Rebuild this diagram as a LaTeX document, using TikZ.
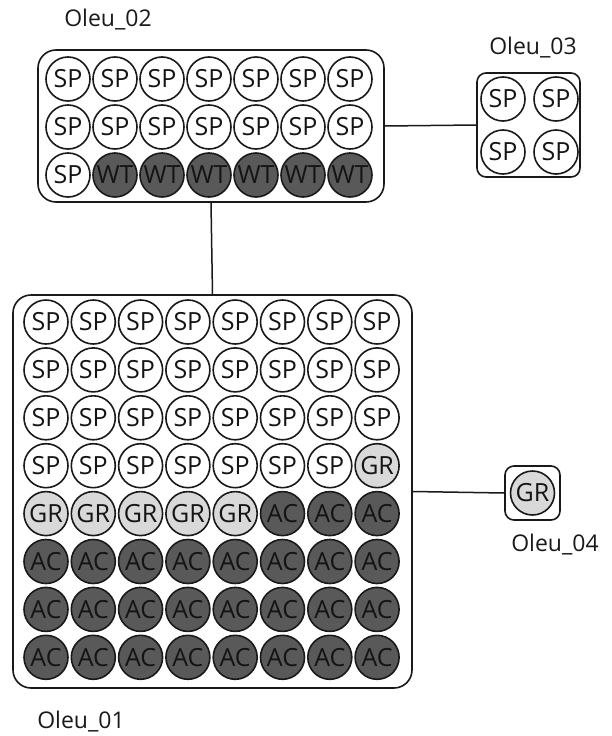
\documentclass[tikz,border=0pt]{standalone}
\usepackage{fontspec}
\setmainfont{Open Sans}
\begin{document}
\begin{tikzpicture}[x=1pt,y=-1pt,
  well/.style={circle,draw=black!90,line width=1.6pt,minimum size=44pt,inner sep=0pt,
    font=\fontsize{25}{25}\selectfont,text=black!92},
  sp/.style={well,fill=white},
  wt/.style={well,fill=black!65},
  gr/.style={well,fill=black!15},
  ac/.style={well,fill=black!65},
  plate/.style={draw=black!90,line width=1.6pt,rounded corners=18pt,inner sep=0pt},
  smallplate/.style={draw=black!90,line width=1.6pt,rounded corners=9pt,inner sep=0pt},
  lbl/.style={font=\fontsize{23}{23}\selectfont,text=black!90},
  link/.style={draw=black!90,line width=1.5pt}]
\useasboundingbox (0,0) rectangle (611,736);
% plates
\node[plate,minimum width=346pt,minimum height=152pt] (o2) at (211,126) {};
\node[smallplate,minimum width=103pt,minimum height=104pt] (o3) at (528.5,125) {};
\node[plate,minimum width=399pt,minimum height=393pt] (o1) at (212.5,491.5) {};
\node[smallplate,minimum width=55pt,minimum height=54pt] (o4) at (532.5,493) {};
% labels
\node[lbl] (l2) at (108,20) {Oleu\_02};
\node[lbl] (l3) at (533,48) {Oleu\_03};
\node[lbl] (l1) at (81,722) {Oleu\_01};
\node[lbl] (l4) at (555,545) {Oleu\_04};
% connectors
\draw[link] (o2.east) -- (o3.west);
\draw[link] (o2.south) -- (o1.north);
\draw[link] (o1.east) -- (o4.west);
% Oleu_02 wells
\foreach \c in {1,...,7}{
  \node[sp] (a1\c) at ({68+47*(\c-1)},79) {SP};
  \node[sp] (a2\c) at ({68+47*(\c-1)},127) {SP};
}
\node[sp] (a31) at (68,175) {SP};
\foreach \c in {2,...,7}{
  \node[wt] (a3\c) at ({68+47*(\c-1)},175) {WT};
}
% Oleu_03 wells
\node[sp] (b11) at (503,99) {SP};
\node[sp] (b12) at (556,99) {SP};
\node[sp] (b21) at (503,152) {SP};
\node[sp] (b22) at (556,152) {SP};
% Oleu_01 wells
\foreach \r in {1,...,3}{
  \foreach \c in {1,...,8}{
    \node[sp] (c\r\c) at ({46+47.3*(\c-1)},{322+47.9*(\r-1)}) {SP};
  }
}
\foreach \c in {1,...,7}{
  \node[sp] (c4\c) at ({46+47.3*(\c-1)},{322+47.9*3}) {SP};
}
\node[gr] (c48) at ({46+47.3*7},{322+47.9*3}) {GR};
\foreach \c in {1,...,5}{
  \node[gr] (c5\c) at ({46+47.3*(\c-1)},{322+47.9*4}) {GR};
}
\foreach \c in {6,...,8}{
  \node[ac] (c5\c) at ({46+47.3*(\c-1)},{322+47.9*4}) {AC};
}
\foreach \r in {6,...,8}{
  \foreach \c in {1,...,8}{
    \node[ac] (c\r\c) at ({46+47.3*(\c-1)},{322+47.9*(\r-1)}) {AC};
  }
}
% Oleu_04 well
\node[gr] (d11) at (532.5,493) {GR};
\end{tikzpicture}
\end{document}
